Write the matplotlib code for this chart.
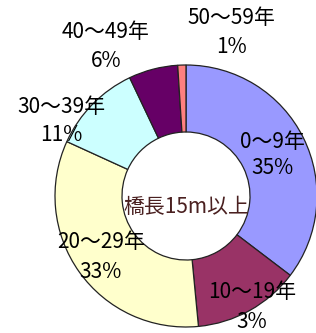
import matplotlib
matplotlib.use("Agg")
import matplotlib.pyplot as plt

categories = ["0～9年", "10～19年", "20～29年", "30～39年", "40～49年", "50～59年"]
values = [35, 13, 33, 11, 6, 1]
pct_labels = ["35%", "3%", "33%", "11%", "6%", "1%"]
colors = ["#9999FF", "#993366", "#FFFFCC", "#CCFFFF", "#660066", "#FF8080"]
center_text = "橋長15m以上"

plt.rcParams['font.family'] = ['Noto Sans CJK JP', 'DejaVu Sans']

W, H = 316, 333
fig = plt.figure(figsize=(W / 100, H / 100), dpi=100)
ax = fig.add_axes([0, 0, 1, 1])

cx, cy, R, r_in = 186, H - 196, 131, 64
ax.pie(values, colors=colors, startangle=90, counterclock=False,
       center=(cx, cy), radius=R, normalize=True, frame=True,
       wedgeprops=dict(width=R - r_in, edgecolor="#222222", linewidth=0.9))
ax.set_xlim(0, W)
ax.set_ylim(0, H)
ax.set_aspect('equal')
ax.axis('off')

# label positions (pixel coords: x, y of name, y of pct)
label_pos = [(272, 142, 168), (252, 292, 322), (101, 242, 272),
             (61, 107, 135), (106, 32, 61), (231, 18, 47)]
for name, pct, (x, yn, yp) in zip(categories, pct_labels, label_pos):
    ax.text(x, H - yn, name, ha='center', va='center', fontsize=15,
            color='black')
    ax.text(x, H - yp, pct, ha='center', va='center', fontsize=15,
            color='black')

ax.text(cx, H - 207, center_text, ha='center', va='center', fontsize=15,
        color='#4a2020')

fig.savefig("out.png", dpi=100)
